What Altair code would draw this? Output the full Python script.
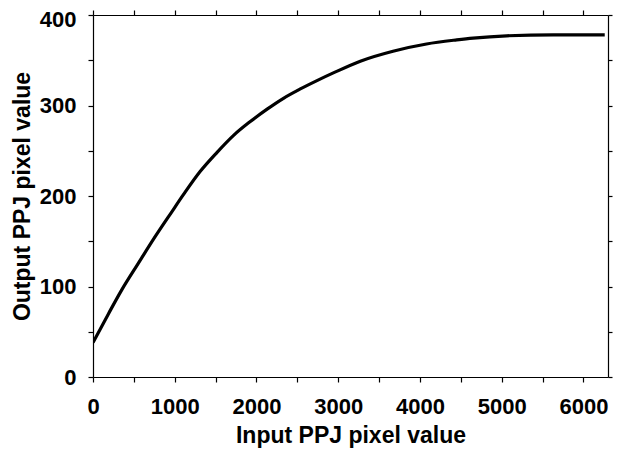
import altair as alt
import pandas as pd

x_vals = [0, 190, 350, 550, 760, 960, 1110, 1310, 1515, 1720, 1920, 2130, 2330,
          2530, 2740, 2940, 3270, 3670, 4080, 4450, 4650, 5060, 5630, 6260]
y_vals = [38, 70, 96, 125, 155, 182, 202, 227, 248, 267, 282, 296, 308,
          318, 327.5, 336, 349, 360, 368, 372.5, 374.5, 377, 378, 378]

x_ticks = list(range(0, 6001, 500))
y_ticks = list(range(0, 401, 50))

df = pd.DataFrame({"x": x_vals, "y": y_vals})

FONT = "Liberation Sans"
xdom = [0, 6300]
ydom = [0, 400]

common_axis = dict(
    domainColor="black", domainWidth=1.2, tickColor="black", tickWidth=1.2,
    tickSize=5, grid=False, labelFont=FONT, labelFontSize=22, labelFontWeight="bold",
    labelColor="black", titleFont=FONT, titleFontSize=23, titleFontWeight="bold",
    titleColor="black", labelFlush=False,
)

line = alt.Chart(df).mark_line(color="black", strokeWidth=3.2, clip=True,
                               interpolate="monotone").encode(
    x=alt.X("x:Q", scale=alt.Scale(domain=xdom, nice=False, zero=False),
            axis=alt.Axis(values=x_ticks, format="d", title="Input PPJ pixel value",
                          labelExpr="datum.value % 1000 == 0 ? datum.label : ''",
                          labelPadding=14, titlePadding=7, **common_axis)),
    y=alt.Y("y:Q", scale=alt.Scale(domain=ydom, nice=False, zero=False),
            axis=alt.Axis(values=y_ticks, format="d", title="Output PPJ pixel value",
                          labelExpr="datum.value % 100 == 0 ? datum.label : ''",
                          labelOffset={"condition": {"test": "datum.value == 400", "value": 4}, "value": 0},
                          labelPadding=12, titlePadding=5, **common_axis)),
)

frame = alt.Chart(df).mark_line(opacity=0).encode(
    x=alt.X("x:Q", scale=alt.Scale(domain=xdom, nice=False, zero=False),
            axis=alt.Axis(orient="top", values=x_ticks, labels=False, title=None,
                          domainColor="black", domainWidth=1.2, tickColor="black",
                          tickWidth=1.2, tickSize=5, grid=False)),
    y=alt.Y("y:Q", scale=alt.Scale(domain=ydom, nice=False, zero=False),
            axis=alt.Axis(orient="right", values=y_ticks, labels=False, title=None,
                          domainColor="black", domainWidth=1.2, tickColor="black",
                          tickWidth=1.2, tickSize=4, grid=False)),
)

chart = alt.layer(line, frame).resolve_scale(x="independent", y="independent").properties(
    width=515, height=362,
    autosize=alt.AutoSizeParams(type="none"),
    padding={"left": 85, "top": 7, "right": 8, "bottom": 78},
    background="white",
).configure_view(stroke=None)

chart.save("out.html", embed_options={"renderer": "svg", "actions": False})
